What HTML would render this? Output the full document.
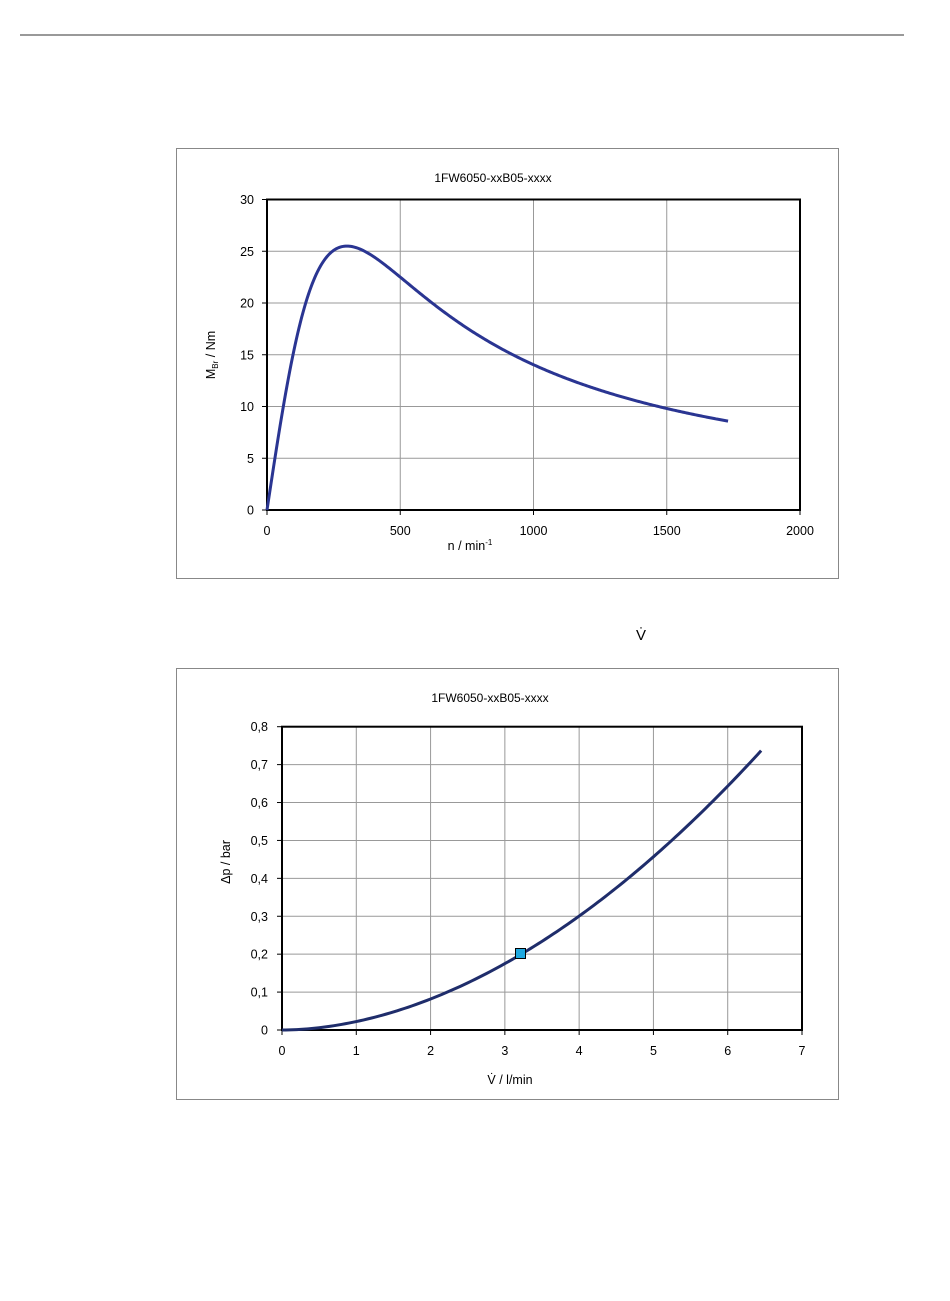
<!DOCTYPE html>
<html><head><meta charset="utf-8"><style>
html,body{margin:0;padding:0;background:#fff;}
svg{display:block;font-family:"Liberation Sans",Arial,sans-serif;}
</style></head><body>
<svg id="s" width="950" height="1301" viewBox="0 0 950 1301" xmlns="http://www.w3.org/2000/svg">
<line x1="20" y1="35" x2="904" y2="35" stroke="#333" stroke-width="1"/>
<text x="641" y="640" font-size="15" text-anchor="middle">V̇</text>

<!-- Chart 1 -->
<rect x="176.5" y="148.5" width="662" height="430" fill="#fff" stroke="#888" stroke-width="1"/>
<text x="493" y="182" font-size="12" text-anchor="middle">1FW6050-xxB05-xxxx</text>
<g id="g1" stroke="#999" stroke-width="1"></g>
<rect x="267" y="199.5" width="533" height="310.5" fill="none" stroke="#000" stroke-width="2"/>
<g font-size="12.5" text-anchor="end" id="y1"></g>
<g font-size="12.5" text-anchor="middle" id="x1"></g>
<text x="470" y="550" font-size="12.5" text-anchor="middle">n / min<tspan font-size="8" dy="-5">-1</tspan></text>
<text transform="translate(215,355) rotate(-90)" font-size="12.5" text-anchor="middle">M<tspan font-size="8" dy="3">Br</tspan><tspan dy="-3"> / Nm</tspan></text>
<path id="c1" fill="none" stroke="#2a3592" stroke-width="3"/>

<!-- Chart 2 -->
<rect x="176.5" y="668.5" width="662" height="431" fill="#fff" stroke="#888" stroke-width="1"/>
<text x="490" y="702" font-size="12" text-anchor="middle">1FW6050-xxB05-xxxx</text>
<g id="g2" stroke="#999" stroke-width="1"></g>
<rect x="282" y="726.7" width="520" height="303.3" fill="none" stroke="#000" stroke-width="2"/>
<g font-size="12.5" text-anchor="end" id="y2"></g>
<g font-size="12.5" text-anchor="middle" id="x2"></g>
<text x="510" y="1084" font-size="12.5" text-anchor="middle">V̇ / l/min</text>
<text transform="translate(230,862) rotate(-90)" font-size="12.5" text-anchor="middle">Δp / bar</text>
<path id="c2" fill="none" stroke="#1f2d6b" stroke-width="3"/>
<rect x="515.5" y="948.5" width="10" height="10" fill="#1fa8e0" stroke="#000" stroke-width="1"/>
</svg>
<script>
var NS="http://www.w3.org/2000/svg";
function el(p,t,a,txt){var e=document.createElementNS(NS,t);for(var k in a)e.setAttribute(k,a[k]);if(txt!==undefined)e.textContent=txt;document.getElementById(p).appendChild(e);}
// chart1
var X0=267,X1=800,Y0=510,Y1=199.5;
function sx(n){return X0+(X1-X0)*n/2000;} function sy(m){return Y0-(Y0-Y1)*m/30;}
for(var i=0;i<=4;i++){var x=sx(i*500);if(i>0&&i<4)el("g1","line",{x1:x,y1:Y1,x2:x,y2:Y0});el("g1","line",{x1:x,y1:Y0,x2:x,y2:Y0+5,stroke:"#000"});el("x1","text",{x:x,y:535},String(i*500));}
for(var j=0;j<=6;j++){var y=sy(j*5);if(j>0&&j<6)el("g1","line",{x1:X0,y1:y,x2:X1,y2:y});el("g1","line",{x1:X0-5,y1:y,x2:X0,y2:y,stroke:"#000"});el("y1","text",{x:254,y:y+4.5},String(j*5));}
var d="M"+sx(0)+","+sy(0);
for(var n=5;n<=1730;n+=5){var m=51/(n/300+300/n);d+=" L"+sx(n).toFixed(2)+","+sy(m).toFixed(2);}
document.getElementById("c1").setAttribute("d",d);
// chart2
var A0=282,A1=802,B0=1030,B1=726.7;
function tx(v){return A0+(A1-A0)*v/7;} function ty(p){return B0-(B0-B1)*p/0.8;}
for(var i=0;i<=7;i++){var x=tx(i);if(i>0&&i<7)el("g2","line",{x1:x,y1:B1,x2:x,y2:B0});el("g2","line",{x1:x,y1:B0,x2:x,y2:B0+5,stroke:"#000"});el("x2","text",{x:x,y:1055},String(i));}
for(var j=0;j<=8;j++){var y=ty(j/10);if(j>0&&j<8)el("g2","line",{x1:A0,y1:y,x2:A1,y2:y});el("g2","line",{x1:A0-5,y1:y,x2:A0,y2:y,stroke:"#000"});el("y2","text",{x:268,y:y+4.5},j==0?"0":"0,"+j);}
var d2="M"+tx(0)+","+ty(0);
for(var v=0.05;v<=6.451;v+=0.05){var p=0.2*Math.pow(v/3.22,1.877);d2+=" L"+tx(v).toFixed(2)+","+ty(p).toFixed(2);}
document.getElementById("c2").setAttribute("d",d2);
</script>
</body></html>
